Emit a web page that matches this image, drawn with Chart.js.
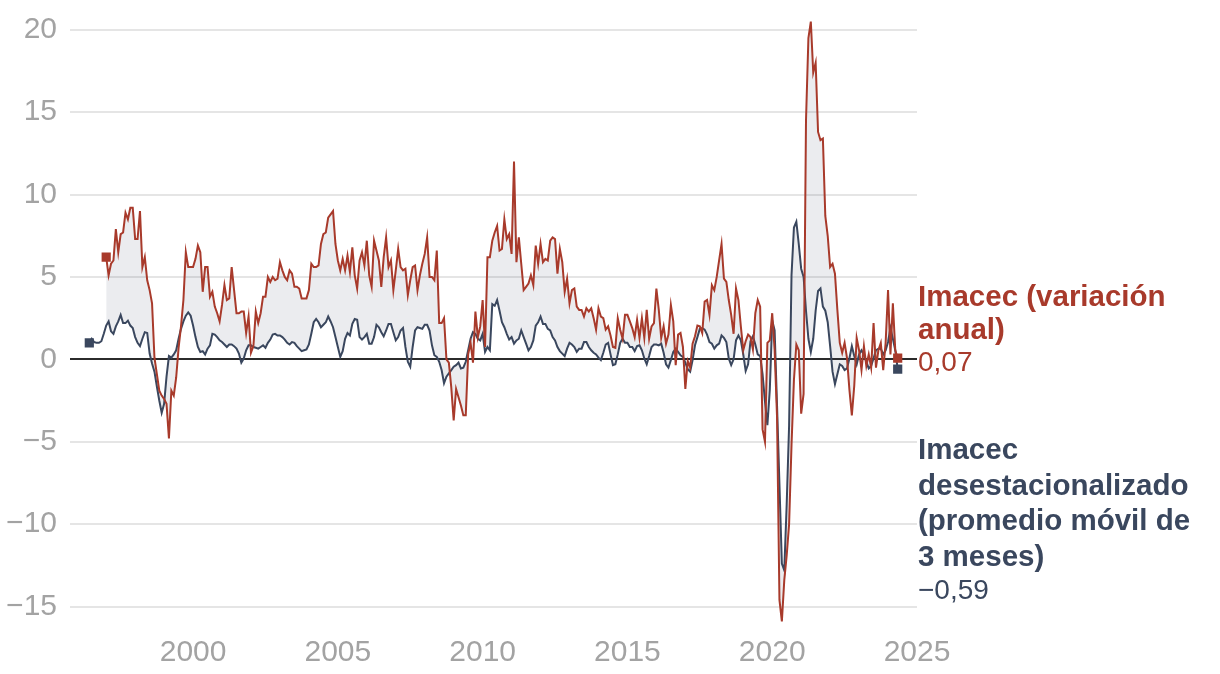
<!DOCTYPE html>
<html>
<head>
<meta charset="utf-8">
<script src="https://cdn.jsdelivr.net/npm/chart.js@4.4.1/dist/chart.umd.min.js"></script>
<style>
  html, body { margin: 0; padding: 0; background: #fff; }
  #wrap { width: 1220px; height: 674px; position: relative; }
</style>
</head>
<body>
<div id="wrap"><canvas id="chart" width="1220" height="674"></canvas></div>
<script>
// Imacec, variación anual (%), monthly from Jan 1997
const annualStart = [1997, 1];
const imacecAnnual = [
  6.2, 5.1, 5.8, 6.0, 7.9, 6.5, 7.6, 7.7, 8.9, 8.5, 9.2, 9.2,          // 1997
  7.3, 7.3, 9.0, 5.6, 6.2, 4.8, 4.2, 3.4, 0.1, -0.9, -1.9, -2.2,       // 1998
  -2.4, -2.7, -4.8, -1.9, -2.2, -1.1, 0.7, 2.0, 3.6, 6.5, 5.6, 5.6,    // 1999
  5.6, 6.1, 6.9, 6.5, 4.1, 5.6, 5.6, 3.8, 4.1, 3.2, 2.8, 2.3,          // 2000
  3.3, 4.5, 3.6, 3.7, 5.6, 4.2, 2.8, 2.8, 2.9, 2.9, 1.6, 2.6,          // 2001
  0.4, 0.8, 2.9, 2.2, 2.8, 3.8, 3.8, 5.0, 4.7, 5.0, 4.8, 4.9,          // 2002
  5.9, 5.4, 5.0, 4.8, 5.4, 5.2, 4.4, 4.4, 4.3, 3.7, 3.7, 3.7,          // 2003
  4.2, 5.8, 5.6, 5.6, 5.7, 7.0, 7.6, 7.7, 8.6, 8.8, 9.0, 7.0,          // 2004
  6.0, 5.4, 6.1, 5.4, 6.3, 5.3, 6.8, 5.1, 4.3, 6.0, 6.5, 5.7,          // 2005
  7.2, 5.1, 4.4, 7.2, 6.6, 6.0, 4.4, 6.2, 7.4, 5.6, 6.0, 4.2,          // 2006
  5.4, 6.7, 5.6, 5.4, 5.5, 3.9, 4.8, 5.6, 5.7, 4.2, 5.1, 5.8,          // 2007
  6.4, 7.4, 5.0, 5.0, 4.8, 6.6, 2.2, 2.2, 2.5, 0.0, -0.2, -1.7,        // 2008
  -3.7, -1.8, -2.3, -2.8, -3.4, -3.4, 0.3, 1.0, -0.2, 2.9, 1.35, 2.0,  // 2009
  3.6, 0.75, 6.2, 6.2, 7.2, 7.7, 8.1, 6.6, 6.7, 8.5, 7.3, 7.6,         // 2010
  6.4, 12.0, 5.9, 7.4, 5.8, 4.2, 4.4, 4.6, 5.1, 4.5, 6.9, 5.8,         // 2011
  7.0, 5.9, 6.1, 6.0, 7.2, 7.4, 7.3, 5.2, 6.7, 5.9, 4.1, 4.9,          // 2012
  3.4, 4.2, 4.3, 3.2, 3.0, 3.0, 2.6, 3.1, 2.9, 3.1, 2.5, 1.8,          // 2013
  3.1, 2.6, 2.5, 1.8, 2.0, 1.45, 0.75, 0.7, 2.5, 1.8, 1.25, 2.7,       // 2014
  2.7, 2.3, 1.9, 1.35, 2.4, 1.3, 2.5, 1.3, 3.0, 1.25, 2.0, 2.2,        // 2015
  4.3, 3.0, 1.3, 2.0, 0.95, 1.5, 3.3, 2.3, -0.35, 1.5, 1.6, 0.75,      // 2016
  -1.8, -0.1, -0.5, 0.95, 1.4, 2.05, 2.0, 1.6, 3.5, 3.6, 2.7, 4.5,     // 2017
  4.2, 5.0, 6.0, 7.0, 4.9, 4.7, 3.6, 2.7, 1.55, 4.3, 3.6, 2.0,         // 2018
  0.55, 1.1, 1.5, 1.35, 0.6, 2.8, 3.6, 3.2, -4.25, -5.0, 1.0, 1.15,    // 2019
  2.8, 0.55, -3.5, -14.6, -15.9, -13.4, -11.9, -10.0, -5.2, -1.25, 0.9, 0.55, // 2020
  -3.3, -2.1, 14.5, 19.5, 20.5, 17.4, 18.0, 13.8, 13.3, 13.4, 8.7, 7.5, // 2021
  5.6, 5.8, 5.2, 3.0, 1.0, 0.4, 1.0, 0.07, -1.85, -3.4, -1.6, 1.3,     // 2022
  0.55, -0.65, 0.8, -0.4, 0.3, -0.5, 2.2, -0.5, 0.55, 1.0, -0.65, 1.0, // 2023
  4.2, 0.3, 3.4, 0.55, 0.07                                            // 2024
];

// Imacec desestacionalizado, promedio móvil de 3 meses, monthly from Jun 1996
const saStart = [1996, 6];
const imacecSA = [
  1.0, 1.25, 1.05, 1.0, 1.0, 1.1, 1.55,                                // 1996
  2.05, 2.3, 1.7, 1.55, 2.0, 2.3, 2.7, 2.2, 2.2, 2.35, 2.05, 1.9,      // 1997
  1.35, 1.0, 0.8, 1.25, 1.65, 1.6, 0.35, -0.25, -0.75, -1.65, -2.5, -3.25, // 1998
  -2.7, -1.05, 0.2, 0.1, 0.3, 0.55, 1.25, 1.85, 2.3, 2.65, 2.85, 2.65, // 1999
  2.05, 1.35, 0.75, 0.45, 0.5, 0.3, 0.65, 0.85, 1.55, 1.5, 1.35, 1.15, // 2000
  1.05, 0.9, 0.75, 0.9, 0.9, 0.8, 0.65, 0.35, -0.2, 0.05, 0.55, 0.85,  // 2001
  0.85, 0.75, 0.7, 0.65, 0.75, 0.85, 0.7, 1.0, 1.2, 1.5, 1.55, 1.45,   // 2002
  1.45, 1.35, 1.2, 1.0, 0.9, 1.05, 1.0, 0.8, 0.65, 0.5, 0.55, 0.6,     // 2003
  0.9, 1.55, 2.25, 2.45, 2.25, 1.95, 2.1, 2.25, 2.6, 2.3, 1.95, 1.35,  // 2004
  0.75, 0.15, 0.5, 1.25, 1.6, 1.45, 2.15, 2.45, 2.4, 1.35, 1.2, 1.35,  // 2005
  1.55, 0.95, 0.95, 1.35, 2.1, 1.95, 1.65, 1.4, 1.75, 2.15, 2.15, 1.65, // 2006
  1.15, 1.35, 1.75, 1.9, 0.75, -0.15, -0.45, 0.75, 1.75, 1.95, 1.9, 1.85, // 2007
  2.1, 2.1, 1.75, 0.85, 0.25, 0.15, -0.15, -0.65, -1.45, -1.05, -0.85, -0.65, // 2008
  -0.45, -0.35, -0.2, -0.55, -0.5, -0.15, 0.55, 1.25, 1.65, 1.55, 1.25, 1.15, // 2009
  1.55, 0.45, 0.75, 0.55, 3.35, 3.25, 3.6, 2.95, 2.25, 1.95, 1.55, 1.2, // 2010
  1.35, 0.95, 1.15, 1.25, 1.75, 1.35, 0.95, 0.55, 0.75, 1.15, 2.05, 2.25, // 2011
  2.6, 2.15, 2.15, 1.85, 1.75, 1.35, 1.15, 0.75, 0.5, 0.35, 0.2, 0.65, // 2012
  1.0, 0.9, 0.75, 0.45, 0.65, 0.65, 1.05, 1.05, 0.75, 0.55, 0.4, 0.3,  // 2013
  0.1, -0.05, 0.4, 0.9, 1.0, 0.3, -0.35, -0.3, 0.3, 1.0, 1.25, 1.0,    // 2014
  1.0, 0.75, 0.75, 0.5, 0.8, 0.85, 0.55, 0.05, -0.3, 0.2, 0.75, 0.9,   // 2015
  0.9, 0.85, 0.95, 0.4, -0.3, -0.5, -0.05, 0.45, 0.65, 0.45, 0.25, 0.15, // 2016
  -0.2, -0.6, -0.75, -0.05, 0.85, 1.35, 1.85, 1.9, 1.8, 1.5, 1.05, 0.95, // 2017
  0.65, 0.85, 0.95, 1.45, 1.3, 1.05, 0.05, -0.35, 0.0, 1.15, 1.45, 1.15, // 2018
  0.3, -0.7, -0.3, 1.1, 1.4, 0.9, 0.3, 0.2, -0.9, -2.55, -4.0, -1.85,  // 2019
  2.35, 1.75, -2.8, -7.6, -12.4, -12.8, -8.8, -4.0, 5.1, 8.0, 8.35, 7.0, // 2020
  5.5, 5.0, 2.95, 1.25, 0.45, 1.25, 2.95, 4.15, 4.3, 3.2, 2.95, 2.25,  // 2021
  0.8, -0.75, -1.5, -0.9, -0.3, -0.4, -0.65, -0.55, 0.07, 0.8, 0.2, -0.3, // 2022
  0.3, 0.55, 0.3, -0.15, -0.55, -0.4, 0.07, 0.55, 0.65, 0.65, 0.3, 0.55, // 2023
  1.05, 1.9, 1.25, 0.55, -0.59                                         // 2024
];

const xTicks = [2000, 2005, 2010, 2015, 2020, 2025];
const yTicks = [-15, -10, -5, 0, 5, 10, 15, 20];
const xRange = [1995.75, 2025];
const yRange = [-16, 21];

const annualLabel = ['Imacec (variación', 'anual)'];
const annualLast = '0,07';
const saLabel = ['Imacec', 'desestacionalizado', '(promedio móvil de', '3 meses)'];
const saLast = '−0,59';

const RED = '#a83a2b';
const NAVY = '#3a475e';
const GREY = '#a3a3a3';
const FONT = "'Liberation Sans', Arial, sans-serif";

function toPoints(start, values) {
    return values.map((v, i) => ({ x: start[0] + (start[1] - 1 + i) / 12, y: v }));
}

function endMarker(size) {
    return (ctx) => {
        const n = ctx.dataset.data.length;
        return (ctx.dataIndex === 0 || ctx.dataIndex === n - 1) ? size : 0;
    };
}

function fmt(v) {
    return v < 0 ? '−' + Math.abs(v) : String(v);
}

// text block to the right of the plot
const sideLabels = {
    id: 'sideLabels',
    afterDraw(chart) {
        const ctx = chart.ctx;
        const x = chart.chartArea.right + 1;
        ctx.save();
        ctx.textAlign = 'left';
        ctx.textBaseline = 'middle';

        ctx.fillStyle = RED;
        ctx.font = 'bold 29.5px ' + FONT;
        annualLabel.forEach((t, i) => ctx.fillText(t, x, 298 + i * 33));
        ctx.font = '28px ' + FONT;
        ctx.fillText(annualLast, x, 363);

        ctx.fillStyle = NAVY;
        ctx.font = 'bold 29.5px ' + FONT;
        saLabel.forEach((t, i) => ctx.fillText(t, x, 451 + i * 35.5));
        ctx.font = '28px ' + FONT;
        ctx.fillText(saLast, x, 591);
        ctx.restore();
    }
};

new Chart(document.getElementById('chart'), {
    type: 'line',
    data: {
        datasets: [
            {
                label: 'Imacec (variación anual)',
                data: toPoints(annualStart, imacecAnnual),
                borderColor: RED,
                borderWidth: 2,
                backgroundColor: 'rgba(58, 71, 94, 0.10)',
                fill: '+1',
                pointStyle: 'rect',
                pointRadius: endMarker(6.5),
                pointBackgroundColor: RED,
                pointBorderWidth: 0,
                tension: 0
            },
            {
                label: 'Imacec desestacionalizado (promedio móvil de 3 meses)',
                data: toPoints(saStart, imacecSA),
                borderColor: NAVY,
                borderWidth: 2,
                fill: false,
                pointStyle: 'rect',
                pointRadius: endMarker(6.5),
                pointBackgroundColor: NAVY,
                pointBorderWidth: 0,
                tension: 0
            }
        ]
    },
    options: {
        responsive: false,
        animation: false,
        layout: { padding: { top: 0, right: 303, bottom: 0, left: 0 } },
        plugins: {
            legend: { display: false },
            tooltip: { enabled: false },
            filler: { drawTime: 'beforeDatasetsDraw' }
        },
        scales: {
            x: {
                type: 'linear',
                min: xRange[0],
                max: xRange[1],
                afterBuildTicks: (scale) => { scale.ticks = xTicks.map(v => ({ value: v })); },
                afterFit: (scale) => { scale.height = 51; },
                grid: { display: false, drawTicks: false },
                border: { display: false },
                ticks: {
                    color: GREY,
                    font: { family: FONT, size: 30 },
                    padding: 12,
                    maxRotation: 0,
                    callback: (v) => String(v)
                }
            },
            y: {
                min: yRange[0],
                max: yRange[1],
                afterBuildTicks: (scale) => { scale.ticks = yTicks.map(v => ({ value: v })); },
                afterFit: (scale) => { scale.width = 70; },
                grid: {
                    drawTicks: false,
                    lineWidth: 2,
                    color: (c) => c.tick && c.tick.value === 0 ? '#2b2b2b' : '#e5e5e5'
                },
                border: { display: false },
                ticks: {
                    color: GREY,
                    font: { family: FONT, size: 30, lineHeight: 0.02 },
                    padding: 13,
                    callback: (v) => fmt(v)
                }
            }
        }
    },
    plugins: [sideLabels]
});
</script>
</body>
</html>
